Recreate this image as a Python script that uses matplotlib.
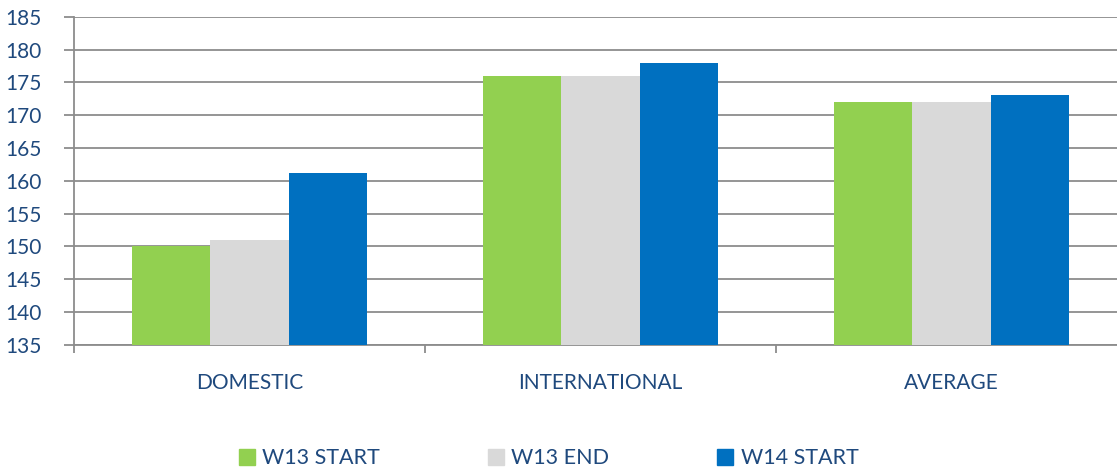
import matplotlib
matplotlib.use('Agg')
import matplotlib.pyplot as plt
import matplotlib.patches as mpatches
import numpy as np

categories = ["DOMESTIC", "INTERNATIONAL", "AVERAGE"]
series_names = ["W13 START", "W13 END", "W14 START"]
w13_start = [150.1, 176, 172]
w13_end = [151.0, 176, 172]
w14_start = [161.2, 178, 173]
y_ticks = [135, 140, 145, 150, 155, 160, 165, 170, 175, 180, 185]

COLORS = ["#92D050", "#D9D9D9", "#0070C0"]
TEXT = "#1F497D"
GRID = "#8C8C8C"

plt.rcParams['font.family'] = ['Lato', 'DejaVu Sans']

fig = plt.figure(figsize=(11.17, 4.70), dpi=100, facecolor="white")
# right edge runs slightly past the image, as in the original
ax = fig.add_axes([0.0662, 0.266, 0.9427, 0.6985])

x = np.arange(len(categories))
w = 0.224
for i, (vals, color, name) in enumerate(zip([w13_start, w13_end, w14_start], COLORS, series_names)):
    ax.bar(x + (i - 1) * w, np.array(vals) - y_ticks[0], w, bottom=y_ticks[0],
           color=color, label=name, zorder=3, linewidth=0)

ax.set_ylim(y_ticks[0], y_ticks[-1])
ax.set_xlim(-0.5, len(categories) - 0.5)
ax.set_yticks(y_ticks)
ax.yaxis.grid(True, color=GRID, linewidth=1.3, zorder=0)
ax.set_axisbelow(True)

# boundary ticks as major, labels on minor at centres
ax.set_xticks(np.arange(len(categories) + 1) - 0.5)
ax.set_xticklabels([])
ax.set_xticks(x, minor=True)
ax.set_xticklabels(categories, minor=True)
ax.tick_params(axis='x', which='major', length=6, color=GRID, width=1.3)
ax.tick_params(axis='x', which='minor', length=0, pad=20, labelsize=15, labelcolor=TEXT)
ax.tick_params(axis='y', length=7, color=GRID, width=1.3, pad=16, labelsize=15, labelcolor=TEXT)

for s in ["top", "right"]:
    ax.spines[s].set_visible(False)
ax.spines["left"].set_color(GRID)
ax.spines["left"].set_linewidth(1.3)
ax.spines["bottom"].set_color(GRID)
ax.spines["bottom"].set_linewidth(1.3)

handles = [mpatches.Patch(color=c, label=n) for c, n in zip(COLORS, series_names)]
fig.legend(handles=handles, loc="center", bbox_to_anchor=(0.491, 0.025), ncol=3,
           frameon=False, fontsize=15.5, labelcolor=TEXT, handlelength=0.75, handleheight=0.75,
           handletextpad=0.35, columnspacing=5.0)

fig.savefig("out.png", dpi=100, facecolor="white")
